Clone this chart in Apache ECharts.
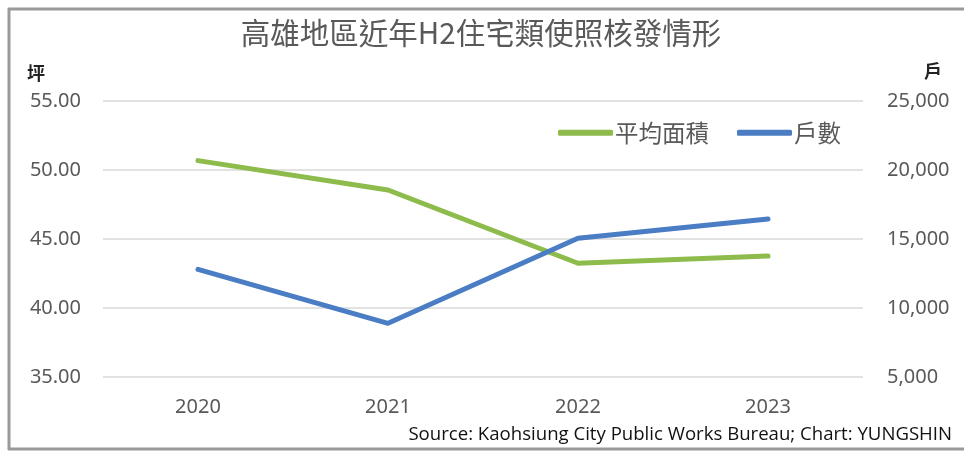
<!DOCTYPE html>
<html>
<head>
<meta charset="utf-8">
<script src="https://cdn.jsdelivr.net/npm/echarts@6/dist/echarts.min.js"></script>
<style>
  html, body { margin: 0; padding: 0; background: #fff; }
  #chart { width: 964px; height: 452px; }
</style>
</head>
<body>
<div id="chart"></div>
<script>
// data
const years = ["2020", "2021", "2022", "2023"];
const avgArea = [50.68, 48.55, 43.24, 43.77]; // 坪
const units = [12800, 8890, 15050, 16450]; // 戶
const leftTicks = { min: 35, max: 55, interval: 5 };
const rightTicks = { min: 5000, max: 25000, interval: 5000 };

const FONT = '"Noto Sans", "Noto Sans CJK TC", sans-serif';
const CJK = '"Noto Sans CJK TC", sans-serif';
const GREEN = "#8DBB4C";
const BLUE = "#4A7DC4";
const GREY_TEXT = "#595959";

const chart = echarts.init(document.getElementById("chart"), null, { renderer: "canvas" });

const option = {
  backgroundColor: "#fff",
  animation: false,
  title: {
    text: "高雄地區近年H2住宅類使照核發情形",
    left: 476,
    textAlign: "center",
    top: 13,
    textStyle: { fontFamily: CJK, fontSize: 29.5, fontWeight: "normal", color: GREY_TEXT },
  },
  legend: {
    left: 558,
    top: 121,
    padding: 0,
    itemWidth: 55,
    itemHeight: 6,
    itemGap: 28,
    icon: "roundRect",
    textStyle: { fontFamily: CJK, fontSize: 23.5, color: GREY_TEXT, padding: [0, 0, 0, -3] },
    data: ["平均面積", "戶數"],
  },
  grid: { left: 103, right: 101, top: 101, bottom: 75 },
  xAxis: {
    type: "category",
    data: years,
    boundaryGap: true,
    axisLine: { show: false },
    axisTick: { show: false },
    axisLabel: { fontFamily: FONT, fontSize: 20, color: GREY_TEXT, margin: 20 },
  },
  yAxis: [
    {
      type: "value",
      min: leftTicks.min,
      max: leftTicks.max,
      interval: leftTicks.interval,
      axisLine: { show: false },
      axisTick: { show: false },
      splitLine: { lineStyle: { color: "#D9D9D9", width: 1.5 } },
      axisLabel: {
        fontFamily: FONT, fontSize: 20, color: GREY_TEXT, margin: 22,
        formatter: (v) => v.toFixed(2),
      },
    },
    {
      type: "value",
      position: "right",
      min: rightTicks.min,
      max: rightTicks.max,
      interval: rightTicks.interval,
      axisLine: { show: false },
      axisTick: { show: false },
      splitLine: { show: false },
      axisLabel: {
        fontFamily: FONT, fontSize: 20, color: GREY_TEXT, margin: 24, align: "left",
        formatter: (v) => v.toLocaleString("en-US"),
      },
    },
  ],
  series: [
    {
      name: "平均面積",
      type: "line",
      yAxisIndex: 0,
      data: avgArea,
      symbol: "none",
      color: GREEN,
      lineStyle: { width: 5, cap: "round", join: "round" },
    },
    {
      name: "戶數",
      type: "line",
      yAxisIndex: 1,
      data: units,
      symbol: "none",
      color: BLUE,
      lineStyle: { width: 5, cap: "round", join: "round" },
    },
  ],
  graphic: [
    // outer frame: top, left and bottom edges
    { type: "line", shape: { x1: 8, y1: 9, x2: 964, y2: 9 }, style: { stroke: "#9A9A9A", lineWidth: 3 } },
    { type: "line", shape: { x1: 9, y1: 8, x2: 9, y2: 450 }, style: { stroke: "#9A9A9A", lineWidth: 3 } },
    { type: "line", shape: { x1: 8, y1: 449, x2: 964, y2: 449 }, style: { stroke: "#9A9A9A", lineWidth: 3 } },
    // axis units
    { type: "text", left: 27, top: 64, style: { text: "坪", font: 'bold 18px "Noto Sans CJK TC"', fill: "#222" } },
    { type: "text", left: 924, top: 62, style: { text: "戶", font: 'bold 18px "Noto Sans CJK TC"', fill: "#222" } },
    // source line
    {
      type: "text", right: 12, top: 425,
      style: { text: "Source: Kaohsiung City Public Works Bureau; Chart: YUNGSHIN", font: '18.6px "Open Sans", sans-serif', fill: "#111" },
    },
  ],
};

chart.setOption(option);
</script>
</body>
</html>
